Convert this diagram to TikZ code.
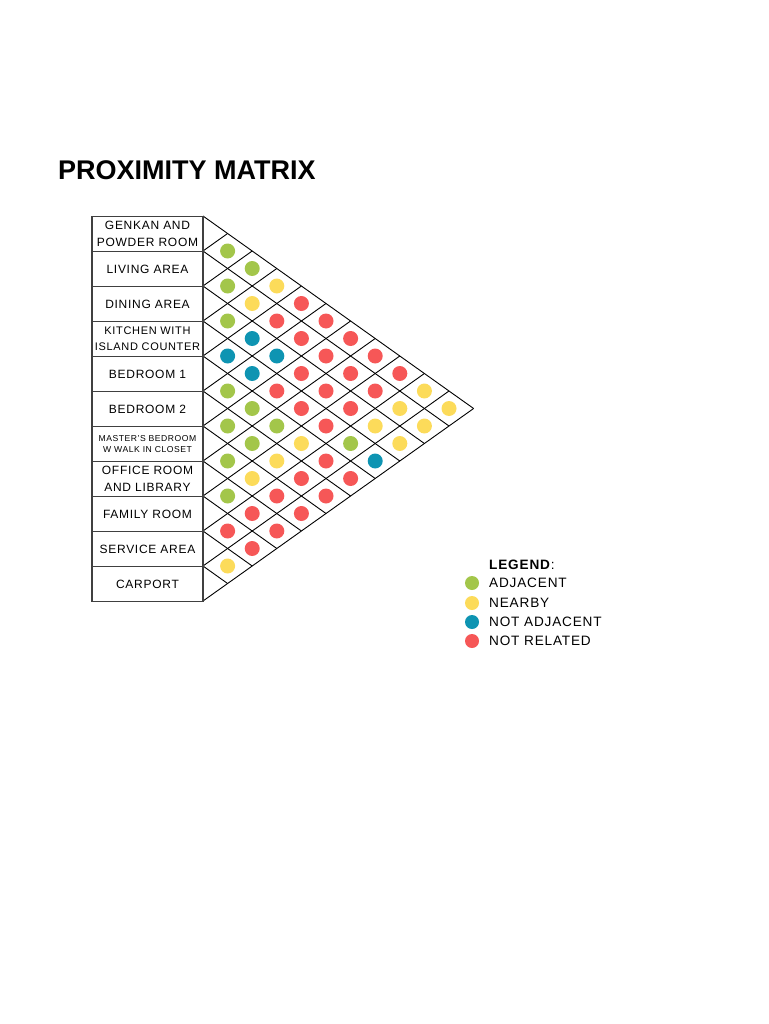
\documentclass[tikz,border=0pt]{standalone}
\usepackage{fontspec}
\setmainfont{Liberation Sans}[LetterSpace=6]
\newfontfamily\titlefont{Liberation Sans}
\definecolor{cG}{HTML}{A3C64A}
\definecolor{cY}{HTML}{FCDB5A}
\definecolor{cT}{HTML}{0E94B2}
\definecolor{cR}{HTML}{F65757}
\begin{document}
\begin{tikzpicture}[x=1pt,y=-1pt,
  room/.style={draw=black!75, line width=1.1pt, minimum width=111pt, minimum height=35pt, inner sep=0pt, align=center, font=\fontsize{12}{17}\selectfont},
  dot/.style={circle, inner sep=0pt, minimum size=15pt},
  gridline/.style={line width=0.9pt, black},
  legtext/.style={anchor=west, inner sep=0pt, font=\fontsize{13.6}{15}\selectfont}]
\useasboundingbox (0,0) rectangle (768,1024);
\node[anchor=base west, inner sep=0pt, font=\titlefont\bfseries\fontsize{27}{31}\selectfont] (title) at (58,180) {PROXIMITY MATRIX};
% grid
\begin{scope}[shift={(203pt,-216pt)}, x=24.6pt, y=-17.5pt]
  \foreach \k in {0,...,11} {
    \draw[gridline] (0,{2*\k}) -- ({11-\k},{11+\k});
    \draw[gridline] (0,{2*\k}) -- (\k,\k);
  }
  \foreach \i/\j/\c in {
    0/1/cG,0/2/cG,0/3/cY,0/4/cR,0/5/cR,0/6/cR,0/7/cR,0/8/cR,0/9/cY,0/10/cY,
    1/2/cG,1/3/cY,1/4/cR,1/5/cR,1/6/cR,1/7/cR,1/8/cR,1/9/cY,1/10/cY,
    2/3/cG,2/4/cT,2/5/cT,2/6/cR,2/7/cR,2/8/cR,2/9/cY,2/10/cY,
    3/4/cT,3/5/cT,3/6/cR,3/7/cR,3/8/cR,3/9/cG,3/10/cT,
    4/5/cG,4/6/cG,4/7/cG,4/8/cY,4/9/cR,4/10/cR,
    5/6/cG,5/7/cG,5/8/cY,5/9/cR,5/10/cR,
    6/7/cG,6/8/cY,6/9/cR,6/10/cR,
    7/8/cG,7/9/cR,7/10/cR,
    8/9/cR,8/10/cR,
    9/10/cY} {
    \node[dot, fill=\c] (d\i-\j) at ({\j-\i},{\i+\j+1}) {};
  }
\end{scope}
% rooms
\node[room] (r0) at (147.5,234) {GENKAN AND\\POWDER ROOM};
\node[room] (r1) at (147.5,269) {LIVING AREA};
\node[room] (r2) at (147.5,304) {DINING AREA};
\node[room, font=\fontsize{11}{16}\selectfont] (r3) at (147.5,339) {KITCHEN WITH\\ISLAND COUNTER};
\node[room] (r4) at (147.5,374) {BEDROOM 1};
\node[room] (r5) at (147.5,409) {BEDROOM 2};
\node[room, font=\fontsize{8.6}{11.5}\selectfont] (r6) at (147.5,444) {MASTER'S BEDROOM\\W WALK IN CLOSET};
\node[room] (r7) at (147.5,479) {OFFICE ROOM\\AND LIBRARY};
\node[room] (r8) at (147.5,514) {FAMILY ROOM};
\node[room] (r9) at (147.5,549) {SERVICE AREA};
\node[room] (r10) at (147.5,584) {CARPORT};
% legend
\node[legtext] (leg) at (489,565) {\textbf{LEGEND}:};
\node[dot, minimum size=14pt, fill=cG] (lg1) at (472,583) {};
\node[legtext] (lt1) at (489,583) {ADJACENT};
\node[dot, minimum size=14pt, fill=cY] (lg2) at (472,603) {};
\node[legtext] (lt2) at (489,603) {NEARBY};
\node[dot, minimum size=14pt, fill=cT] (lg3) at (472,622) {};
\node[legtext] (lt3) at (489,622) {NOT ADJACENT};
\node[dot, minimum size=14pt, fill=cR] (lg4) at (472,641) {};
\node[legtext] (lt4) at (489,641) {NOT RELATED};
\end{tikzpicture}
\end{document}
